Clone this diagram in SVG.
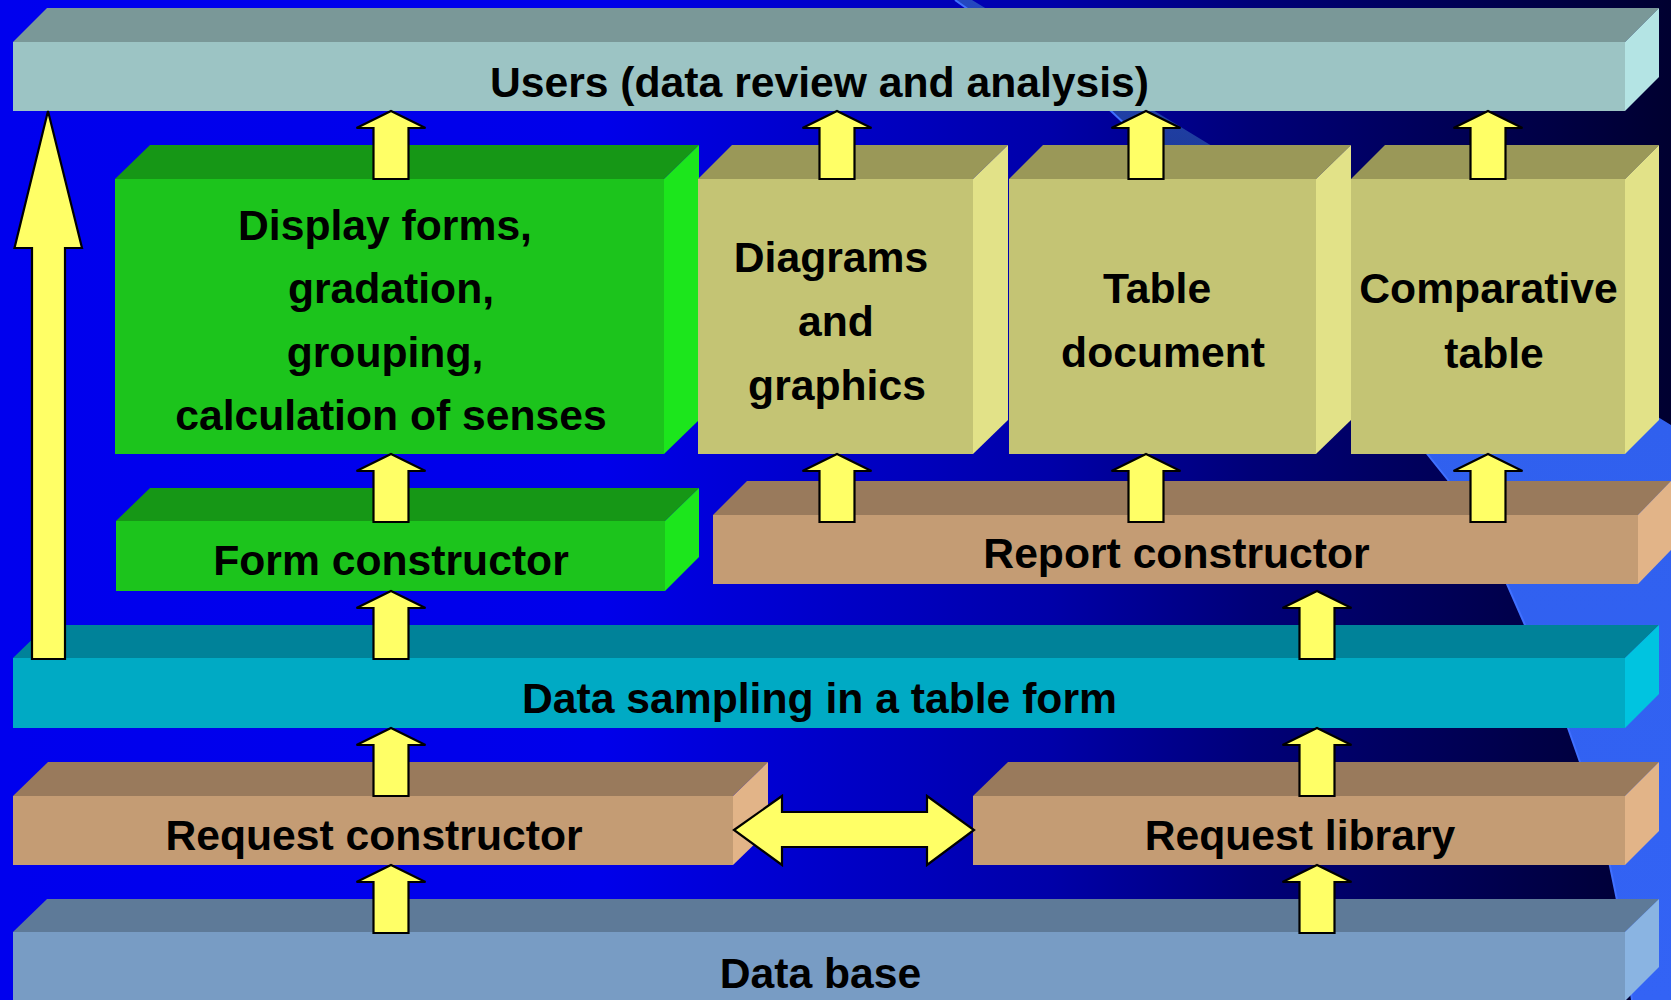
<svg xmlns="http://www.w3.org/2000/svg" xmlns:xlink="http://www.w3.org/1999/xlink" width="1671" height="1000" viewBox="0 0 1671 1000">
<defs>
<linearGradient id="bg" x1="0" y1="0" x2="1671" y2="0" gradientUnits="userSpaceOnUse">
<stop offset="0" stop-color="#0000EE"/>
<stop offset="0.36" stop-color="#0000EA"/>
<stop offset="0.63" stop-color="#0000A8"/>
<stop offset="0.75" stop-color="#000078"/>
<stop offset="1" stop-color="#000030"/>
</linearGradient>
<linearGradient id="sw" x1="0" y1="0" x2="0" y2="1000" gradientUnits="userSpaceOnUse">
<stop offset="0" stop-color="#2448C0"/>
<stop offset="0.15" stop-color="#1E3C9C"/>
<stop offset="0.42" stop-color="#3060EE"/>
<stop offset="1" stop-color="#3363F5"/>
</linearGradient>
<path id="up" d="M0,0 L34.5,17 L17.5,17 L17.5,68 L-17.5,68 L-17.5,17 L-34.5,17 Z" fill="#FFFF66" stroke="#000" stroke-width="2.2" stroke-linejoin="miter"/>
<style>
text{font-family:"Liberation Sans",Arial,sans-serif;font-weight:bold;font-size:42.67px;fill:#000;text-anchor:middle}
.uf{fill:#9CC4C4}.ut{fill:#7A9898}.ur{fill:#B4E4E4}
.gf{fill:#1CC41C}.gt{fill:#169716}.gr{fill:#1CE61C}
.kf{fill:#C4C474}.kt{fill:#9A9858}.kr{fill:#E2E288}
.bf{fill:#C49C74}.bt{fill:#997A5C}.br{fill:#E2B488}
.cf{fill:#00AAC4}.ct{fill:#008299}.cr{fill:#00C4E0}
.df{fill:#789CC4}.dt{fill:#5E7A98}.dr{fill:#8AB4E2}
</style>
</defs>

<rect x="0" y="0" width="1671" height="1000" fill="url(#bg)"/>
<path d="M955,0 L972,0 L1671,425 L1671,1000 L1632,1000 L1617,900 L1610,866 L1580,762 L1568,728 L1525,625 L1507,584 L1448,480 L1380,395 L1280,285 L1190,185 L1111,111 Z" fill="url(#sw)"/>
<path d="M955,0 L1111,111 L1190,185 L1280,285 L1380,395 L1448,480 L1507,584 L1525,625 L1568,728 L1580,762 L1610,866 L1617,900 L1632,1000" fill="none" stroke="#4070FF" stroke-width="2"/>

<g id="node-users">
<polygon class="ut" points="13,42 47,8 1659,8 1625,42"/>
<polygon class="ur" points="1625,42 1659,8 1659,77 1625,111"/>
<rect class="uf" x="13" y="42" width="1612" height="69"/>
<text x="819.5" y="97">Users (data review and analysis)</text>
</g>

<g id="node-display">
<polygon class="gt" points="115,179 150,145 699,145 664,179"/>
<polygon class="gr" points="664,179 699,145 699,420 664,454"/>
<rect class="gf" x="115" y="179" width="549" height="275"/>
<text x="385" y="240">Display forms,</text>
<text x="391" y="303">gradation,</text>
<text x="385" y="367">grouping,</text>
<text x="391" y="430">calculation of senses</text>
</g>

<g id="node-diagrams">
<polygon class="kt" points="698,179 732,145 1008,145 973,179"/>
<polygon class="kr" points="973,179 1008,145 1008,420 973,454"/>
<rect class="kf" x="698" y="179" width="275" height="275"/>
<text x="831" y="272">Diagrams</text>
<text x="836" y="336">and</text>
<text x="837" y="400">graphics</text>
</g>

<g id="node-table">
<polygon class="kt" points="1009,179 1043,145 1351,145 1316,179"/>
<polygon class="kr" points="1316,179 1351,145 1351,420 1316,454"/>
<rect class="kf" x="1009" y="179" width="307" height="275"/>
<text x="1157" y="303">Table</text>
<text x="1163" y="367">document</text>
</g>

<g id="node-comparative">
<polygon class="kt" points="1351,179 1385,145 1659,145 1625,179"/>
<polygon class="kr" points="1625,179 1659,145 1659,420 1625,454"/>
<rect class="kf" x="1351" y="179" width="274" height="275"/>
<text x="1488.5" y="303">Comparative</text>
<text x="1494" y="368">table</text>
</g>

<g id="node-form">
<polygon class="gt" points="116,521 150,488 699,488 665,521"/>
<polygon class="gr" points="665,521 699,488 699,557 665,591"/>
<rect class="gf" x="116" y="521" width="549" height="70"/>
<text x="391" y="575">Form constructor</text>
</g>

<g id="node-report">
<polygon class="bt" points="713,515 747,481 1671,481 1638,515"/>
<polygon class="br" points="1638,515 1671,481 1671,550 1638,584"/>
<rect class="bf" x="713" y="515" width="925" height="69"/>
<text x="1176.5" y="568">Report constructor</text>
</g>

<g id="node-sampling">
<polygon class="ct" points="13,658 47,625 1659,625 1625,658"/>
<polygon class="cr" points="1625,658 1659,625 1659,694 1625,728"/>
<rect class="cf" x="13" y="658" width="1612" height="70"/>
<text x="819.5" y="713">Data sampling in a table form</text>
</g>

<g id="node-reqconstructor">
<polygon class="bt" points="13,796 48,762 768,762 733,796"/>
<polygon class="br" points="733,796 768,762 768,831 733,865"/>
<rect class="bf" x="13" y="796" width="720" height="69"/>
<text x="374" y="850">Request constructor</text>
</g>

<g id="node-reqlibrary">
<polygon class="bt" points="973,796 1008,762 1659,762 1625,796"/>
<polygon class="br" points="1625,796 1659,762 1659,831 1625,865"/>
<rect class="bf" x="973" y="796" width="652" height="69"/>
<text x="1300" y="850">Request library</text>
</g>

<g id="node-database">
<polygon class="dt" points="13,932 47,899 1659,899 1625,932"/>
<polygon class="dr" points="1625,932 1659,899 1659,967 1625,1001"/>
<rect class="df" x="13" y="932" width="1612" height="70"/>
<text x="820.5" y="988">Data base</text>
</g>

<g id="connectors">
<use xlink:href="#up" x="391" y="111"/>
<use xlink:href="#up" x="837" y="111"/>
<use xlink:href="#up" x="1146" y="111"/>
<use xlink:href="#up" x="1488" y="111"/>
<use xlink:href="#up" x="391" y="454"/>
<use xlink:href="#up" x="837" y="454"/>
<use xlink:href="#up" x="1146" y="454"/>
<use xlink:href="#up" x="1488" y="454"/>
<use xlink:href="#up" x="391" y="591"/>
<use xlink:href="#up" x="1317" y="591"/>
<use xlink:href="#up" x="391" y="728"/>
<use xlink:href="#up" x="1317" y="728"/>
<use xlink:href="#up" x="391" y="865"/>
<use xlink:href="#up" x="1317" y="865"/>
<polygon points="48,111 82,248 65,248 65,659 32,659 32,248 14.5,248" fill="#FFFF66" stroke="#000" stroke-width="2.2"/>
<polygon points="734,830 782,796 782,812 927,812 927,796 974,830 927,865 927,847 782,847 782,865" fill="#FFFF66" stroke="#000" stroke-width="2.2"/>
</g>
</svg>
